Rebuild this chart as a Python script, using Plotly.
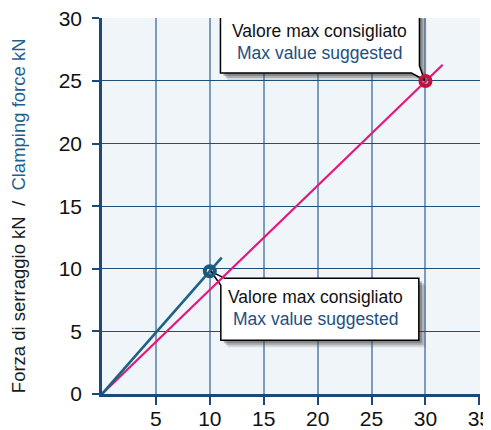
import plotly.graph_objects as go

# ---- data ----
x_ticks = [5, 10, 15, 20, 25, 30, 35]
y_ticks = [0, 5, 10, 15, 20, 25, 30]
blue_line_x = [0, 11.1]
blue_line_y = [0, 10.9]
pink_line_x = [0, 31.6]
pink_line_y = [0, 26.3]
blue_point_x = [10]
blue_point_y = [9.8]
pink_point_x = [30]
pink_point_y = [25]
label_it = "Valore max consigliato"
label_en = "Max value suggested"
y_title_it = "Forza di serraggio kN"
y_title_en = "Clamping force kN"

FONT = "Liberation Sans, Arial, sans-serif"
NAVY = "#1b4a7a"
TEXT_BLUE = "#1d4f7f"
PINK = "#e2187b"
CRIMSON = "#c0113f"
TEAL = "#1c6383"

fig = go.Figure()
fig.add_trace(go.Scatter(x=pink_line_x, y=pink_line_y, mode="lines",
                         line=dict(color=PINK, width=2.2), hoverinfo="skip"))
fig.add_trace(go.Scatter(x=blue_line_x, y=blue_line_y, mode="lines",
                         line=dict(color=TEAL, width=2.6), hoverinfo="skip"))
fig.add_trace(go.Scatter(x=pink_point_x, y=pink_point_y, mode="markers",
                         marker=dict(symbol="circle-open", size=10, color=CRIMSON,
                                     line=dict(width=4, color=CRIMSON))))
fig.add_trace(go.Scatter(x=blue_point_x, y=blue_point_y, mode="markers",
                         marker=dict(symbol="circle-open", size=10, color="#1a5a78",
                                     line=dict(width=4, color="#1a5a78"))))


def callout(ax, ay, path_pts, text_dx, line1_dy, line2_dy):
    def to_path(pts, dx=0, dy=0):
        return "M " + " L ".join(f"{px+dx},{py+dy}" for px, py in pts) + " Z"
    for off, op in [(7, 0.15), (5, 0.25), (3, 0.35)]:
        fig.add_shape(type="path", xref="x", yref="y", xsizemode="pixel",
                      ysizemode="pixel", xanchor=ax, yanchor=ay,
                      path=to_path(path_pts, off, -off), fillcolor="#3a3a3a",
                      opacity=op, line=dict(width=0), layer="between")
    fig.add_shape(type="path", xref="x", yref="y", xsizemode="pixel",
                  ysizemode="pixel", xanchor=ax, yanchor=ay,
                  path=to_path(path_pts), fillcolor="white",
                  line=dict(color="black", width=1.5), layer="between")
    fig.add_annotation(x=ax, y=ay, xref="x", yref="y", showarrow=False,
                       text=label_it, xshift=text_dx, yshift=line1_dy,
                       font=dict(family=FONT, size=17.5, color="#111111"))
    fig.add_annotation(x=ax, y=ay, xref="x", yref="y", showarrow=False,
                       text=label_en, xshift=text_dx, yshift=line2_dy,
                       font=dict(family=FONT, size=17.5, color=TEXT_BLUE))


# callout pointing to pink point (box up-left)
callout(pink_point_x[0], pink_point_y[0],
        [(-205, 69), (-6, 69), (-6, 15), (-1, 1), (-14, 8), (-205, 8)],
        -105.5, 50, 28)
# callout pointing to blue point (box down-right)
callout(blue_point_x[0], blue_point_y[0],
        [(15, -7), (209, -7), (209, -69), (11, -69), (11, -14), (1, 0)],
        106, -25.5, -48)

# y-axis title (two colours)
fig.add_annotation(
    xref="paper", yref="paper", x=-0.2222, y=0.473, xanchor="center", yanchor="middle",
    textangle=-90, showarrow=False,
    text=(f"<span style='color:#1a1a1a'>{y_title_it}\u00a0\u00a0/\u00a0\u00a0</span>"
          f"<span style='color:#1f5f8f'>{y_title_en}</span>"),
    font=dict(family=FONT, size=18.5))

fig.update_xaxes(range=[0, 35.06], tickvals=x_ticks, ticktext=[str(v) for v in x_ticks],
                 showgrid=True, gridcolor="#7d9bbd", gridwidth=2,
                 showline=True, linecolor=NAVY, linewidth=2.5,
                 ticks="outside", ticklen=8, tickcolor=NAVY, tickwidth=1.5,
                 ticklabelstandoff=-4, automargin=False, ticklabeloverflow="allow",
                 tickfont=dict(family=FONT, size=21, color="#111111"),
                 zeroline=False, fixedrange=True)
fig.update_yaxes(range=[0, 30.03], tickvals=y_ticks, ticktext=[str(v) for v in y_ticks],
                 showgrid=True, gridcolor="#1f4e79", gridwidth=1.2,
                 showline=True, linecolor=NAVY, linewidth=2.5,
                 ticks="outside", ticklen=7, tickcolor=NAVY, tickwidth=1.5,
                 ticklabelstandoff=6, automargin=False, ticklabeloverflow="allow",
                 tickfont=dict(family=FONT, size=21, color="#111111"),
                 zeroline=False, fixedrange=True)

# page body has an 8px margin, so the figure is sized to fit the window from (8, 8)
fig.update_layout(width=483, height=422,
                  margin=dict(l=94, r=11, t=10, b=36, autoexpand=False),
                  paper_bgcolor="white", plot_bgcolor="#f0f5fa",
                  showlegend=False)

fig.write_html("out.html")
